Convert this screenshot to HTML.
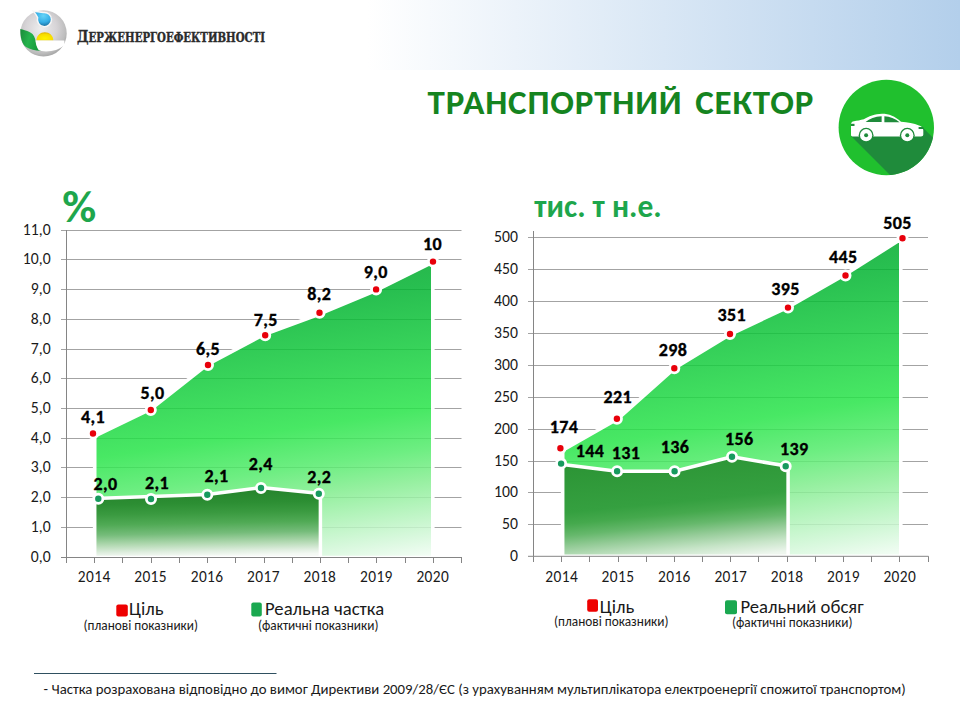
<!DOCTYPE html>
<html><head><meta charset="utf-8"><title>Транспортний сектор</title>
<style>
html,body{margin:0;padding:0;background:#fff;}
body{width:960px;height:720px;overflow:hidden;position:relative;}
svg{position:absolute;left:0;top:0;}
.grid{stroke:#a3a3a3;stroke-width:1;}
.axis{stroke:#858585;stroke-width:1;}
.ylab,.xlab{font-family:Carlito, 'Liberation Sans', sans-serif;font-size:16px;fill:#1a1a1a;}
.ylab{font-size:15.7px;}
.xlab{font-size:15.4px;letter-spacing:0.4px;}
.dl{font-family:Carlito, 'Liberation Sans', sans-serif;font-size:18px;font-weight:bold;fill:#000;letter-spacing:0.4px;stroke:#000;stroke-width:0.35px;}
.area{stroke:#fff;stroke-width:3.5;stroke-linejoin:round;}
.la{fill-opacity:0.85;stroke-width:3.6;}
.mt{fill:#e8000b;stroke:#fff;stroke-width:2.8;}
.ma{fill:#179a5e;stroke:#fff;stroke-width:2.8;}
.leg{font-family:Carlito, 'Liberation Sans', sans-serif;font-size:18.67px;fill:#1a1a1a;}
.legs{font-family:Carlito, 'Liberation Sans', sans-serif;font-size:13.33px;fill:#1a1a1a;}
</style></head>
<body>
<svg width="960" height="720" viewBox="0 0 960 720">
<defs>
  <linearGradient id="hdr" x1="0" y1="0" x2="1" y2="0">
    <stop offset="0" stop-color="#ffffff"/>
    <stop offset="1" stop-color="#b3cfeb"/>
  </linearGradient>
  <linearGradient id="gL" x1="0" y1="0" x2="0.195" y2="1.139">
    <stop offset="0" stop-color="#009925"/>
    <stop offset="0.206" stop-color="#02b331"/>
    <stop offset="0.379" stop-color="#14ca3d"/>
    <stop offset="0.566" stop-color="#28e449"/>
    <stop offset="0.681" stop-color="#54eb6c"/>
    <stop offset="0.769" stop-color="#83ed8f"/>
    <stop offset="0.927" stop-color="#d0f7d6"/>
    <stop offset="1.0" stop-color="#f4fdf6"/>
  </linearGradient>
  <linearGradient id="gL2" x1="0" y1="0" x2="0.195" y2="1.139">
    <stop offset="0" stop-color="#009925"/>
    <stop offset="0.206" stop-color="#02b331"/>
    <stop offset="0.379" stop-color="#14ca3d"/>
    <stop offset="0.566" stop-color="#28e449"/>
    <stop offset="0.681" stop-color="#54eb6c"/>
    <stop offset="0.769" stop-color="#83ed8f"/>
    <stop offset="0.927" stop-color="#d0f7d6"/>
    <stop offset="1.0" stop-color="#f4fdf6"/>
  </linearGradient>
  <linearGradient id="gD" x1="0" y1="0" x2="0.06" y2="1.0">
    <stop offset="0" stop-color="#24802a"/>
    <stop offset="0.25" stop-color="#2c8e33"/>
    <stop offset="0.39" stop-color="#3a9a40"/>
    <stop offset="0.536" stop-color="#50aa55"/>
    <stop offset="0.68" stop-color="#75bc7a"/>
    <stop offset="0.82" stop-color="#b0d8b0"/>
    <stop offset="0.936" stop-color="#e0eee0"/>
    <stop offset="1.0" stop-color="#f4f9f4"/>
  </linearGradient>
  <linearGradient id="gD2" x1="0" y1="0" x2="0.246" y2="1.12">
    <stop offset="0" stop-color="#2a9233"/>
    <stop offset="0.48" stop-color="#35a040"/>
    <stop offset="0.58" stop-color="#45a94d"/>
    <stop offset="0.68" stop-color="#66b86c"/>
    <stop offset="0.78" stop-color="#96cc99"/>
    <stop offset="0.89" stop-color="#c6e4c7"/>
    <stop offset="1.0" stop-color="#eef6ee"/>
  </linearGradient>

</defs>
<rect x="367" y="0" width="593" height="70" fill="url(#hdr)"/>

<g id="logo">
  <defs>
    <radialGradient id="lgS" cx="0.45" cy="0.4" r="0.62">
      <stop offset="0" stop-color="#eeeeee"/>
      <stop offset="0.55" stop-color="#d6d3d6"/>
      <stop offset="0.85" stop-color="#bdbdbd"/>
      <stop offset="1" stop-color="#a3a3a3"/>
    </radialGradient>
    <radialGradient id="lgB" cx="0.55" cy="0.3" r="0.75">
      <stop offset="0" stop-color="#66d4f8"/>
      <stop offset="0.55" stop-color="#35aee6"/>
      <stop offset="1" stop-color="#155f8c"/>
    </radialGradient>
    <radialGradient id="lgY" cx="0.5" cy="0.75" r="0.8">
      <stop offset="0" stop-color="#fff200"/>
      <stop offset="0.6" stop-color="#f7dc00"/>
      <stop offset="1" stop-color="#d8a800"/>
    </radialGradient>
    <linearGradient id="lgG" x1="0" y1="0" x2="1" y2="0.3">
      <stop offset="0" stop-color="#1b8a3a"/>
      <stop offset="0.5" stop-color="#25b34c"/>
      <stop offset="1" stop-color="#169a3a"/>
    </linearGradient>
  </defs>
  <circle cx="43.5" cy="33.4" r="23.2" fill="url(#lgS)"/>
  <path d="M33.3,11.2 C36,11.4 40,12.2 43.5,12.5 A7.1,7.1 0 1 1 37.6,17.6 C36.4,15.2 35,13 33.3,11.2 Z" fill="url(#lgB)" stroke="#f6f6f6" stroke-width="1.5"/>
  <path d="M36.4,40.4 C36.4,35.5 40.5,32.2 44.8,32.2 C49.3,32.2 53.3,35.5 53.3,40.4 Z" fill="url(#lgY)"/>
  <path d="M20.3,29 C22.5,29.5 28,30.5 32.5,34 C35,36.5 35.6,41 36.2,44 C37.3,47.5 39,49.5 41.5,50.8 C36,51 30,49.5 26,47 C22,44 20.3,38 20.3,29 Z" fill="url(#lgG)"/>
  <path d="M35.6,40.4 L64.3,40.4 C64.6,42.5 64.5,44 64,45.6 C59.5,49.5 53,51.5 46,51.5 C42.5,51.4 40,50.8 38.6,50 C36.8,47.5 35.8,44 35.6,40.4 Z" fill="#ffffff"/>
</g>
<text x="77" y="42" font-family="'DejaVu Serif Condensed', 'DejaVu Serif', 'Liberation Serif', serif" font-weight="bold" fill="#2b2b2b" stroke="#2b2b2b" stroke-width="0.35" textLength="188" lengthAdjust="spacingAndGlyphs"><tspan font-size="15.8">Д</tspan><tspan font-size="12.4">ЕРЖЕНЕРГОЕФЕКТИВНОСТІ</tspan></text>
<text x="427.5" y="113.5" font-family="Carlito, 'Liberation Sans', sans-serif" font-weight="bold" font-size="35" letter-spacing="0.83" word-spacing="4" fill="#15841f" textLength="386.6" lengthAdjust="spacingAndGlyphs">ТРАНСПОРТНИЙ СЕКТОР</text>

<g id="car">
  <defs><clipPath id="cc"><circle cx="886.3" cy="127.5" r="47.7"/></clipPath></defs>
  <circle cx="886.3" cy="127.5" r="47.7" fill="#20c02e"/>
  <path clip-path="url(#cc)" d="M851,136 L951,236 L1003.3,208 L923.3,128 Z" fill="#1f8b3b"/>
  <path d="M851,135 L851,124.5 C851,122.5 852,121.6 854,121.3 C857,120.8 860.5,120.2 863.8,119.3 C868.5,116.3 875,113.9 882,113.8 C889,113.8 895,116.3 901,121.8 C907.5,122.4 914,123.6 919,125.4 C922,126.4 923.3,128 923.3,130.5 L923.3,134.5 C923.3,135.8 922.5,136.4 921,136.4 L852.5,136.4 C851.5,136.4 851,135.9 851,135 Z" fill="#fff"/>
  <path d="M865.6,122.1 C869.5,118.6 875,116.4 881.6,116.2 L881.6,122.1 Z" fill="#1f8b3b"/>
  <path d="M884.4,116.2 C890,116.3 895,118.6 899.6,122.2 L884.4,122.2 Z" fill="#1f8b3b"/>
  <rect x="851" y="123.8" width="3.5" height="2.2" fill="#1f8b3b"/>
  <rect x="918.6" y="127" width="4.7" height="2" fill="#1f8b3b"/>
  <circle cx="866.1" cy="135.2" r="7.4" fill="#1f8b3b"/>
  <circle cx="866.1" cy="135.2" r="6.1" fill="#fff"/>
  <circle cx="866.1" cy="135.2" r="2" fill="#1f8b3b"/>
  <circle cx="907.3" cy="135.2" r="7.4" fill="#1f8b3b"/>
  <circle cx="907.3" cy="135.2" r="6.1" fill="#fff"/>
  <circle cx="907.3" cy="135.2" r="2" fill="#1f8b3b"/>
</g>
<text x="62.3" y="222.3" font-family="Carlito, 'Liberation Sans', sans-serif" font-weight="bold" font-size="44.5" fill="#1ea64c" textLength="34" lengthAdjust="spacingAndGlyphs">%</text>
<text x="534.3" y="216.7" font-family="Carlito, 'Liberation Sans', sans-serif" font-weight="bold" font-size="31.4" fill="#1ea64c" textLength="127.34" lengthAdjust="spacingAndGlyphs">тис. т н.е.</text>
<line x1="61" y1="527.5" x2="461.5" y2="527.5" class="grid"/>
<line x1="61" y1="497.5" x2="461.5" y2="497.5" class="grid"/>
<line x1="61" y1="467.5" x2="461.5" y2="467.5" class="grid"/>
<line x1="61" y1="438.5" x2="461.5" y2="438.5" class="grid"/>
<line x1="61" y1="408.5" x2="461.5" y2="408.5" class="grid"/>
<line x1="61" y1="378.5" x2="461.5" y2="378.5" class="grid"/>
<line x1="61" y1="349.5" x2="461.5" y2="349.5" class="grid"/>
<line x1="61" y1="319.5" x2="461.5" y2="319.5" class="grid"/>
<line x1="61" y1="289.5" x2="461.5" y2="289.5" class="grid"/>
<line x1="61" y1="259.5" x2="461.5" y2="259.5" class="grid"/>
<line x1="61" y1="230.5" x2="461.5" y2="230.5" class="grid"/>
<text x="50.6" y="561.9" class="ylab" text-anchor="end">0,0</text>
<text x="50.6" y="531.9" class="ylab" text-anchor="end">1,0</text>
<text x="50.6" y="501.9" class="ylab" text-anchor="end">2,0</text>
<text x="50.6" y="471.9" class="ylab" text-anchor="end">3,0</text>
<text x="50.6" y="442.9" class="ylab" text-anchor="end">4,0</text>
<text x="50.6" y="412.9" class="ylab" text-anchor="end">5,0</text>
<text x="50.6" y="382.9" class="ylab" text-anchor="end">6,0</text>
<text x="50.6" y="353.9" class="ylab" text-anchor="end">7,0</text>
<text x="50.6" y="323.9" class="ylab" text-anchor="end">8,0</text>
<text x="50.6" y="293.9" class="ylab" text-anchor="end">9,0</text>
<text x="50.6" y="263.9" class="ylab" text-anchor="end">10,0</text>
<text x="50.6" y="234.9" class="ylab" text-anchor="end">11,0</text>
<polygon points="94.7,436.1 151.1,408.9 207.6,364.3 264.0,334.5 320.4,313.7 376.9,290.0 432.8,262.2 432.8,557.5 94.7,557.5" fill="url(#gL)" class="area la"/>
<polygon points="94.7,498.5 151.0,496.5 207.3,494.5 261.0,487.5 320.4,493.5 320.4,557.5 94.7,557.5" fill="url(#gD)" class="area"/>
<line x1="66.5" y1="230" x2="66.5" y2="557.5" class="axis"/>
<line x1="61" y1="557.5" x2="462.0" y2="557.5" class="axis"/>
<line x1="61" y1="557.5" x2="66.5" y2="557.5" class="axis"/>
<line x1="66.5" y1="557.5" x2="66.5" y2="563" class="axis"/>
<line x1="94.5" y1="557.5" x2="94.5" y2="563" class="axis"/>
<line x1="122.5" y1="557.5" x2="122.5" y2="563" class="axis"/>
<line x1="151.5" y1="557.5" x2="151.5" y2="563" class="axis"/>
<line x1="179.5" y1="557.5" x2="179.5" y2="563" class="axis"/>
<line x1="207.5" y1="557.5" x2="207.5" y2="563" class="axis"/>
<line x1="235.5" y1="557.5" x2="235.5" y2="563" class="axis"/>
<line x1="264.5" y1="557.5" x2="264.5" y2="563" class="axis"/>
<line x1="292.5" y1="557.5" x2="292.5" y2="563" class="axis"/>
<line x1="320.5" y1="557.5" x2="320.5" y2="563" class="axis"/>
<line x1="348.5" y1="557.5" x2="348.5" y2="563" class="axis"/>
<line x1="376.5" y1="557.5" x2="376.5" y2="563" class="axis"/>
<line x1="405.5" y1="557.5" x2="405.5" y2="563" class="axis"/>
<line x1="433.5" y1="557.5" x2="433.5" y2="563" class="axis"/>
<line x1="461.5" y1="557.5" x2="461.5" y2="563" class="axis"/>
<text x="94.2" y="582" class="xlab" text-anchor="middle">2014</text>
<text x="150.6" y="582" class="xlab" text-anchor="middle">2015</text>
<text x="207.1" y="582" class="xlab" text-anchor="middle">2016</text>
<text x="263.5" y="582" class="xlab" text-anchor="middle">2017</text>
<text x="319.9" y="582" class="xlab" text-anchor="middle">2018</text>
<text x="376.4" y="582" class="xlab" text-anchor="middle">2019</text>
<text x="432.8" y="582" class="xlab" text-anchor="middle">2020</text>
<circle cx="93" cy="433.5" r="4.6" class="mt"/>
<circle cx="150.8" cy="410" r="4.6" class="mt"/>
<circle cx="208" cy="365" r="4.6" class="mt"/>
<circle cx="265.2" cy="335.2" r="4.6" class="mt"/>
<circle cx="319.5" cy="312.8" r="4.6" class="mt"/>
<circle cx="376.1" cy="289.4" r="4.6" class="mt"/>
<circle cx="433" cy="261.6" r="4.6" class="mt"/>
<circle cx="98.3" cy="498.8" r="4.6" class="ma"/>
<circle cx="151" cy="499" r="4.6" class="ma"/>
<circle cx="207.3" cy="494.8" r="4.6" class="ma"/>
<circle cx="261" cy="488" r="4.6" class="ma"/>
<circle cx="318.8" cy="493.8" r="4.6" class="ma"/>
<text x="93" y="423" class="dl" text-anchor="middle">4,1</text>
<text x="152.5" y="398.8" class="dl" text-anchor="middle">5,0</text>
<text x="208" y="354.5" class="dl" text-anchor="middle">6,5</text>
<text x="265.8" y="326.3" class="dl" text-anchor="middle">7,5</text>
<text x="319.3" y="300" class="dl" text-anchor="middle">8,2</text>
<text x="375.7" y="278.3" class="dl" text-anchor="middle">9,0</text>
<text x="432.5" y="249.6" class="dl" text-anchor="middle">10</text>
<text x="105.5" y="490" class="dl" text-anchor="middle">2,0</text>
<text x="157" y="488.8" class="dl" text-anchor="middle">2,1</text>
<text x="216.5" y="482" class="dl" text-anchor="middle">2,1</text>
<text x="260.8" y="469.6" class="dl" text-anchor="middle">2,4</text>
<text x="319.2" y="483" class="dl" text-anchor="middle">2,2</text>
<line x1="528" y1="524.5" x2="928" y2="524.5" class="grid"/>
<line x1="528" y1="492.5" x2="928" y2="492.5" class="grid"/>
<line x1="528" y1="461.5" x2="928" y2="461.5" class="grid"/>
<line x1="528" y1="429.5" x2="928" y2="429.5" class="grid"/>
<line x1="528" y1="397.5" x2="928" y2="397.5" class="grid"/>
<line x1="528" y1="365.5" x2="928" y2="365.5" class="grid"/>
<line x1="528" y1="333.5" x2="928" y2="333.5" class="grid"/>
<line x1="528" y1="301.5" x2="928" y2="301.5" class="grid"/>
<line x1="528" y1="269.5" x2="928" y2="269.5" class="grid"/>
<line x1="528" y1="237.5" x2="928" y2="237.5" class="grid"/>
<text x="517.9" y="561.0" class="ylab" text-anchor="end">0</text>
<text x="517.9" y="529.0" class="ylab" text-anchor="end">50</text>
<text x="517.9" y="497.0" class="ylab" text-anchor="end">100</text>
<text x="517.9" y="466.0" class="ylab" text-anchor="end">150</text>
<text x="517.9" y="434.0" class="ylab" text-anchor="end">200</text>
<text x="517.9" y="402.0" class="ylab" text-anchor="end">250</text>
<text x="517.9" y="370.0" class="ylab" text-anchor="end">300</text>
<text x="517.9" y="338.0" class="ylab" text-anchor="end">350</text>
<text x="517.9" y="306.0" class="ylab" text-anchor="end">400</text>
<text x="517.9" y="274.0" class="ylab" text-anchor="end">450</text>
<text x="517.9" y="242.0" class="ylab" text-anchor="end">500</text>
<polygon points="562.7,450.2 618.0,418.7 674.4,368.3 730.8,334.0 787.1,307.6 843.5,275.5 900.8,239.3 900.8,556.3 562.7,556.3" fill="url(#gL2)" class="area la"/>
<polygon points="562.7,464.6 617.1,471.3 674.6,471.2 732.0,456.8 788.1,466.3 788.1,556.3 562.7,556.3" fill="url(#gD2)" class="area"/>
<line x1="533.5" y1="231" x2="533.5" y2="556.3" class="axis"/>
<line x1="528" y1="556.3" x2="928.5" y2="556.3" class="axis"/>
<line x1="533.5" y1="556.3" x2="533.5" y2="562" class="axis"/>
<line x1="561.5" y1="556.3" x2="561.5" y2="562" class="axis"/>
<line x1="589.5" y1="556.3" x2="589.5" y2="562" class="axis"/>
<line x1="618.5" y1="556.3" x2="618.5" y2="562" class="axis"/>
<line x1="646.5" y1="556.3" x2="646.5" y2="562" class="axis"/>
<line x1="674.5" y1="556.3" x2="674.5" y2="562" class="axis"/>
<line x1="702.5" y1="556.3" x2="702.5" y2="562" class="axis"/>
<line x1="730.5" y1="556.3" x2="730.5" y2="562" class="axis"/>
<line x1="758.5" y1="556.3" x2="758.5" y2="562" class="axis"/>
<line x1="787.5" y1="556.3" x2="787.5" y2="562" class="axis"/>
<line x1="815.5" y1="556.3" x2="815.5" y2="562" class="axis"/>
<line x1="843.5" y1="556.3" x2="843.5" y2="562" class="axis"/>
<line x1="871.5" y1="556.3" x2="871.5" y2="562" class="axis"/>
<line x1="899.5" y1="556.3" x2="899.5" y2="562" class="axis"/>
<line x1="928.5" y1="556.3" x2="928.5" y2="562" class="axis"/>
<text x="561.7" y="582" class="xlab" text-anchor="middle">2014</text>
<text x="618.0" y="582" class="xlab" text-anchor="middle">2015</text>
<text x="674.4" y="582" class="xlab" text-anchor="middle">2016</text>
<text x="730.8" y="582" class="xlab" text-anchor="middle">2017</text>
<text x="787.1" y="582" class="xlab" text-anchor="middle">2018</text>
<text x="843.5" y="582" class="xlab" text-anchor="middle">2019</text>
<text x="899.8" y="582" class="xlab" text-anchor="middle">2020</text>
<circle cx="560.4" cy="448.2" r="4.6" class="mt"/>
<circle cx="616.9" cy="418.7" r="4.6" class="mt"/>
<circle cx="674.3" cy="368.3" r="4.6" class="mt"/>
<circle cx="730" cy="334" r="4.6" class="mt"/>
<circle cx="788" cy="307.6" r="4.6" class="mt"/>
<circle cx="845.5" cy="275.5" r="4.6" class="mt"/>
<circle cx="902.5" cy="238.3" r="4.6" class="mt"/>
<circle cx="561.1" cy="463.6" r="4.6" class="ma"/>
<circle cx="617.1" cy="471.3" r="4.6" class="ma"/>
<circle cx="674.6" cy="471.2" r="4.6" class="ma"/>
<circle cx="732" cy="456.8" r="4.6" class="ma"/>
<circle cx="785.7" cy="466.3" r="4.6" class="ma"/>
<text x="564" y="433.3" class="dl" text-anchor="middle">174</text>
<text x="617.8" y="402.7" class="dl" text-anchor="middle">221</text>
<text x="673" y="356.3" class="dl" text-anchor="middle">298</text>
<text x="731.8" y="321.3" class="dl" text-anchor="middle">351</text>
<text x="785.6" y="295.3" class="dl" text-anchor="middle">395</text>
<text x="843.3" y="263.3" class="dl" text-anchor="middle">445</text>
<text x="897.5" y="229.2" class="dl" text-anchor="middle">505</text>
<text x="590" y="457.3" class="dl" text-anchor="middle">144</text>
<text x="626" y="459.3" class="dl" text-anchor="middle">131</text>
<text x="675" y="452.5" class="dl" text-anchor="middle">136</text>
<text x="739.3" y="445" class="dl" text-anchor="middle">156</text>
<text x="794.3" y="454.6" class="dl" text-anchor="middle">139</text>
<!-- legends -->
<rect x="116.3" y="604.5" width="11.5" height="12" rx="2" fill="#ee0000"/>
<text x="129" y="615.4" class="leg" textLength="34.48" lengthAdjust="spacingAndGlyphs">Ціль</text>
<text x="83.5" y="630" class="legs" textLength="114.52" lengthAdjust="spacingAndGlyphs">(планові показники)</text>
<rect x="251.3" y="602.5" width="10.5" height="14" rx="2" fill="#1aa850"/>
<text x="265" y="615.3" class="leg" textLength="119.13" lengthAdjust="spacingAndGlyphs">Реальна частка</text>
<text x="258" y="630" class="legs" textLength="120.47" lengthAdjust="spacingAndGlyphs">(фактичні показники)</text>
<rect x="587.2" y="599.2" width="10.8" height="12.5" rx="2" fill="#ee0000"/>
<text x="599.8" y="612.5" class="leg" textLength="34.48" lengthAdjust="spacingAndGlyphs">Ціль</text>
<text x="554" y="626" class="legs" textLength="114.52" lengthAdjust="spacingAndGlyphs">(планові показники)</text>
<rect x="725" y="600.3" width="12" height="14" rx="2" fill="#1aa850"/>
<text x="740.4" y="613" class="leg" textLength="123.2" lengthAdjust="spacingAndGlyphs">Реальний обсяг</text>
<text x="732" y="627" class="legs" textLength="120.47" lengthAdjust="spacingAndGlyphs">(фактичні показники)</text>
<line x1="34" y1="673.5" x2="276.5" y2="673.5" stroke="#2f5060" stroke-width="1.2"/>
<text x="43.6" y="693.5" font-family="Carlito, 'Liberation Sans', sans-serif" font-size="14.78" fill="#1a1a1a" textLength="862.14" lengthAdjust="spacingAndGlyphs">- Частка розрахована відповідно до вимог Директиви 2009/28/ЄС (з урахуванням мультиплікатора електроенергії спожитої транспортом)</text>
</svg>
</body></html>
